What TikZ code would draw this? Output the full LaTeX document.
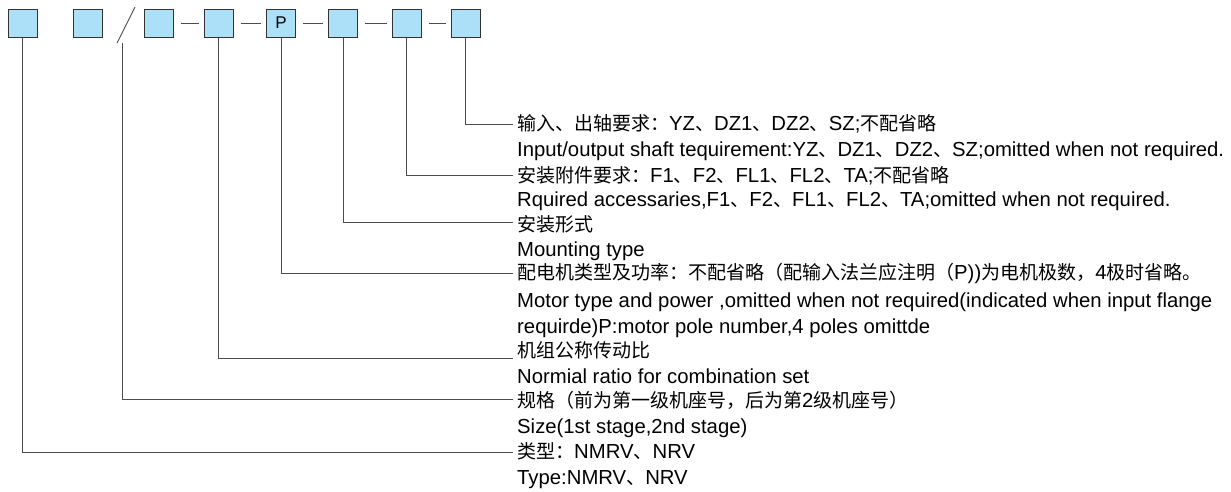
\documentclass[tikz,border=0pt]{standalone}
\usepackage{fontspec}
\setmainfont{Liberation Sans}
\newfontfamily\cjk{Noto Sans CJK SC}
\newcommand\zh[1]{{\fontsize{19}{20}\cjk #1}}
\definecolor{cellblue}{RGB}{172,224,249}
\begin{document}
\begin{tikzpicture}[x=1pt,y=-1pt,
  cell/.style={draw=black!80,fill=cellblue,line width=1pt,minimum width=29pt,
    minimum height=28pt,inner sep=0pt,font=\fontsize{17}{17}\selectfont},
  lead/.style={draw=black!70,line width=0.9pt},
  txt/.style={anchor=base west,inner sep=0pt,font=\fontsize{20.3}{24}\selectfont}]
\useasboundingbox (0,0) rectangle (1231,491);
% code boxes
\node[cell] (b1) at (22.5,23) {};
\node[cell] (b2) at (87.5,23) {};
\node[cell] (b3) at (158.5,23) {};
\node[cell] (b4) at (218.5,23) {};
\node[cell] (b5) at (281,23) {P};
\node[cell] (b6) at (343,23) {};
\node[cell] (b7) at (406.5,23) {};
\node[cell] (b8) at (465.5,23) {};
\draw[lead] (135,7) -- (117,43);
\coordinate (sl) at (122,43);
\foreach \a/\b in {b3/b4,b4/b5,b5/b6,b6/b7,b7/b8}
  \draw[lead,shorten <=7pt,shorten >=5pt] (\a) -- (\b);
% texts
\node[txt] (zh8) at (517,130) {\zh{输入、出轴要求：}YZ\zh{、}DZ1\zh{、}DZ2\zh{、}SZ;\zh{不配省略}};
\node[txt] (en8) at (517,156) {Input/output shaft tequirement:YZ\zh{、}DZ1\zh{、}DZ2\zh{、}SZ;omitted when not required.};
\node[txt] (zh7) at (517,182) {\zh{安装附件要求：}F1\zh{、}F2\zh{、}FL1\zh{、}FL2\zh{、}TA;\zh{不配省略}};
\node[txt] (en7) at (517,206) {Rquired accessaries,F1\zh{、}F2\zh{、}FL1\zh{、}FL2\zh{、}TA;omitted when not required.};
\node[txt] (zh6) at (517,231) {\zh{安装形式}};
\node[txt] (en6) at (517,256) {Mounting type};
\node[txt] (zh5) at (517,279) {\zh{配电机类型及功率：不配省略（配输入法兰应注明（}P))\zh{为电机极数，}4\zh{极时省略。}};
\node[txt] (en5a) at (517,307) {Motor type and power ,omitted when not required(indicated when input flange};
\node[txt] (en5b) at (517,333) {requirde)P:motor pole number,4 poles omittde};
\node[txt] (zh4) at (517,357) {\zh{机组公称传动比}};
\node[txt] (en4) at (517,383) {Normial ratio for combination set};
\node[txt] (zh2) at (517,407) {\zh{规格（前为第一级机座号，后为第}2\zh{级机座号）}};
\node[txt] (en2) at (517,433) {Size(1st stage,2nd stage)};
\node[txt] (zh1) at (517,458) {\zh{类型：}NMRV\zh{、}NRV};
\node[txt] (en1) at (517,484) {Type:NMRV\zh{、}NRV};
% leads
\coordinate (e8) at (513,124);
\coordinate (e7) at (513,175);
\coordinate (e6) at (513,222);
\coordinate (e5) at (513,273);
\coordinate (e4) at (513,358);
\coordinate (e2) at (513,399);
\coordinate (e1) at (513,452);
\draw[lead] (b8.south) |- (e8);
\draw[lead] (b7.south) |- (e7);
\draw[lead] (b6.south) |- (e6);
\draw[lead] (b5.south) |- (e5);
\draw[lead] (b4.south) |- (e4);
\draw[lead] (sl) |- (e2);
\draw[lead] (b1.south) |- (e1);
\end{tikzpicture}
\end{document}
